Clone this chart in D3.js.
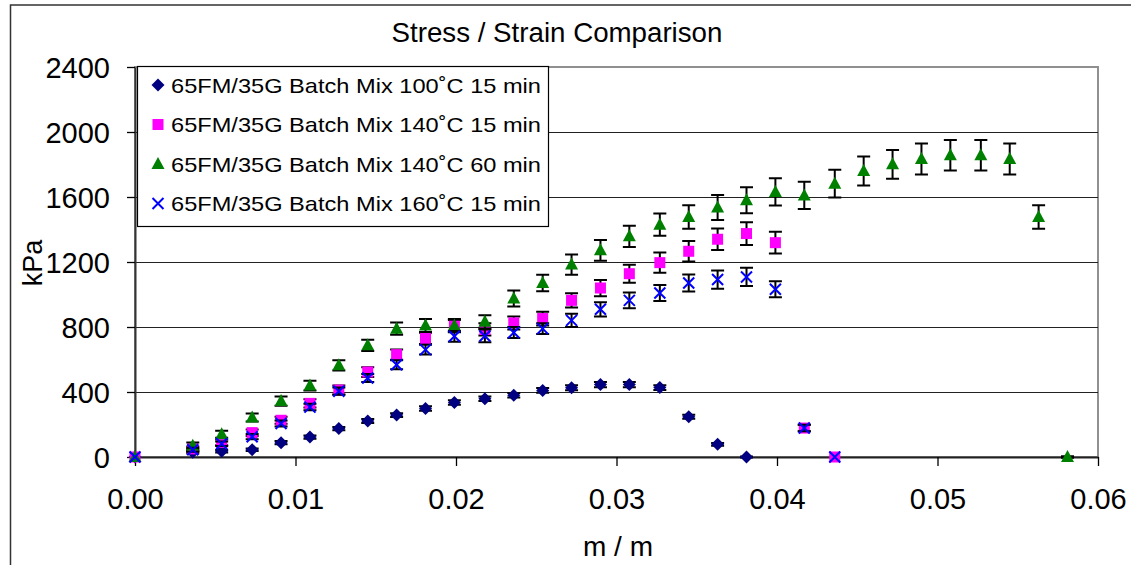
<!DOCTYPE html>
<html><head><meta charset="utf-8">
<script src="https://cdn.jsdelivr.net/npm/d3@7"></script>
<style>
body{margin:0;background:#fff;}
text{font-family:"Liberation Sans",Arial,sans-serif;fill:#000;}
</style></head>
<body><svg id="c" width="1131" height="565"></svg>
<script>
const strain = [0, 0.0036, 0.0054, 0.0073, 0.0091, 0.0109, 0.0127, 0.0145, 0.0163, 0.0181, 0.0199, 0.0218, 0.0236, 0.0254, 0.0272, 0.0290, 0.0308, 0.0327, 0.0345, 0.0363, 0.0381, 0.0399, 0.0417, 0.0436, 0.0454, 0.0472, 0.0490, 0.0508, 0.0527, 0.0545, 0.0563, 0.0581];

const s100_15 = [0, 30, 35, 45, 88, 123, 175, 222, 258, 298, 335, 358, 380, 410, 426, 446, 446, 427, 248, 78, 0];
const e100_15 = [0, 8, 8, 8, 10, 10, 10, 12, 12, 14, 14, 14, 14, 15, 15, 16, 16, 15, 12, 8, 3];

const s140_15 = [0, 50, 90, 150, 226, 330, 412, 523, 630, 730, 805, 785, 825, 852, 964, 1040, 1128, 1196, 1266, 1340, 1375, 1319, 178, 0];
const e140_15 = [0, 15, 18, 20, 22, 25, 28, 30, 32, 35, 38, 38, 40, 42, 44, 50, 55, 62, 63, 66, 70, 67, 20, 0];

const s140_60 = [0, 70, 140, 243, 344, 440, 564, 687, 790, 810, 810, 832, 975, 1071, 1184, 1272, 1358, 1430, 1477, 1535, 1580, 1631, 1610, 1682, 1760, 1801, 1834, 1857, 1857, 1834, 1477, 0];
const e140_60 = [0, 20, 22, 25, 28, 30, 32, 35, 38, 40, 40, 41, 49, 51, 62, 64, 65, 69, 72, 77, 80, 84, 84, 85, 89, 89, 96, 94, 94, 96, 72, 5];

const s160_15 = [0, 45, 82, 125, 206, 307, 405, 486, 568, 661, 743, 745, 766, 790, 841, 909, 964, 1009, 1071, 1092, 1108, 1032, 178, 0];
const e160_15 = [0, 12, 14, 16, 18, 20, 22, 25, 28, 30, 33, 39, 34, 33, 41, 44, 49, 49, 52, 56, 56, 49, 20, 0];

const seriesNames = ["65FM/35G Batch Mix 100˚C 15 min", "65FM/35G Batch Mix 140˚C 15 min", "65FM/35G Batch Mix 140˚C 60 min", "65FM/35G Batch Mix 160˚C 15 min"];
const seriesColors = ["#000080", "#FF00FF", "#008000", "#0000FF"];
const seriesShapes = ["diamond", "square", "triangle", "x"];
const xTicks = [0, 0.01, 0.02, 0.03, 0.04, 0.05, 0.06];
const yTicks = [0, 400, 800, 1200, 1600, 2000, 2400];
const titleText = "Stress / Strain Comparison";
const xTitle = "m / m";
const yTitle = "kPa";

const series = [
  {vals: s100_15, errs: e100_15},
  {vals: s140_15, errs: e140_15},
  {vals: s140_60, errs: e140_60},
  {vals: s160_15, errs: e160_15}
].map((s, i) => ({
  name: seriesNames[i], color: seriesColors[i], shape: seriesShapes[i],
  pts: s.vals.map((v, j) => ({x: strain[j], y: v, e: s.errs[j]}))
}));

const svg = d3.select("#c");
const L = 135, R = 1098, T = 67, B = 457;
const x = d3.scaleLinear().domain([0, 0.06]).range([L, R]);
const y = d3.scaleLinear().domain([0, 2400]).range([B, T]);
const FONT = '"Liberation Sans",Arial,sans-serif';

// outer chart border
svg.append("rect").attr("x", 10.5).attr("y", 5).attr("width", 1130).attr("height", 600)
  .attr("fill", "#fff").attr("stroke", "#333").attr("stroke-width", 1.5);

// plot area border
svg.append("rect").attr("x", L).attr("y", T).attr("width", R - L).attr("height", B - T)
  .attr("fill", "none").attr("stroke", "#909090").attr("stroke-width", 2);

// gridlines
svg.append("g").selectAll("line").data(yTicks.filter(t => t > 0 && t < 2400)).join("line")
  .attr("x1", L).attr("x2", R).attr("y1", d => Math.round(y(d)) + 0.5).attr("y2", d => Math.round(y(d)) + 0.5)
  .attr("stroke", "#222").attr("stroke-width", 1.2);

// axes
const xAxis = svg.append("g").attr("transform", `translate(0,${B})`)
  .call(d3.axisBottom(x).tickValues(xTicks).tickFormat(d3.format(".2f")).tickSize(9).tickSizeOuter(0));
xAxis.select(".domain").attr("stroke", "#222").attr("stroke-width", 2);
xAxis.selectAll(".tick line").attr("stroke", "#000").attr("stroke-width", 1.3);
xAxis.selectAll(".tick text").attr("y", 52).attr("dy", 0).attr("font-size", 29)
  .style("font-family", FONT).attr("fill", "#000");

const yAxis = svg.append("g").attr("transform", `translate(${L},0)`)
  .call(d3.axisLeft(y).tickValues(yTicks).tickFormat(d3.format("d")).tickSize(8).tickPadding(17).tickSizeOuter(0));
yAxis.select(".domain").attr("stroke", "#333").attr("stroke-width", 2);
yAxis.selectAll(".tick line").attr("stroke", "#000").attr("stroke-width", 1.3);
yAxis.selectAll(".tick text").attr("font-size", 29).attr("dy", "0.36em")
  .style("font-family", FONT).attr("fill", "#000");

// title and axis titles
svg.append("text").attr("x", 557).attr("y", 42).attr("text-anchor", "middle").attr("font-size", 27.7).text(titleText);
svg.append("text").attr("x", 618).attr("y", 556).attr("text-anchor", "middle").attr("font-size", 28).text(xTitle);
svg.append("text").attr("transform", "translate(42,263) rotate(-90)").attr("text-anchor", "middle").attr("font-size", 27).text(yTitle);

function marker(g, shape, color, cx, cy) {
  if (shape === "diamond") {
    g.append("path").attr("d", `M${cx},${cy - 6.5}L${cx + 6.5},${cy}L${cx},${cy + 6.5}L${cx - 6.5},${cy}Z`).attr("fill", color);
  } else if (shape === "square") {
    g.append("rect").attr("x", cx - 5.5).attr("y", cy - 5.5).attr("width", 11).attr("height", 11).attr("fill", color);
  } else if (shape === "triangle") {
    g.append("path").attr("d", `M${cx},${cy - 7}L${cx + 6.5},${cy + 5}L${cx - 6.5},${cy + 5}Z`).attr("fill", color);
  } else {
    g.append("path").attr("d", `M${cx - 5.5},${cy - 5.5}L${cx + 5.5},${cy + 5.5}M${cx + 5.5},${cy - 5.5}L${cx - 5.5},${cy + 5.5}`)
      .attr("stroke", color).attr("stroke-width", 2).attr("fill", "none");
  }
}

// series
series.forEach(s => {
  const g = svg.append("g");
  s.pts.forEach(p => {
    if (p.e > 0) {
      const cx = x(p.x), y1 = y(p.y + p.e), y0 = y(p.y - p.e);
      g.append("path")
        .attr("d", `M${cx},${y1}L${cx},${y0}M${cx - 6.5},${y1}L${cx + 6.5},${y1}M${cx - 6.5},${y0}L${cx + 6.5},${y0}`)
        .attr("stroke", "#000").attr("stroke-width", 2).attr("fill", "none");
    }
  });
  s.pts.forEach(p => marker(g, s.shape, s.color, x(p.x), y(p.y)));
});

// legend
const lg = svg.append("g");
lg.append("rect").attr("x", 137.5).attr("y", 66.5).attr("width", 411).attr("height", 160)
  .attr("fill", "#fff").attr("stroke", "#000").attr("stroke-width", 1.2);
series.forEach((s, i) => {
  const cy = 85 + i * 39.5;
  marker(lg, s.shape, s.color, 158, cy);
  lg.append("text").attr("x", 171).attr("y", cy + 7.5).attr("font-size", 21)
    .attr("textLength", 370).attr("lengthAdjust", "spacingAndGlyphs").text(s.name);
});
</script>
</body></html>
